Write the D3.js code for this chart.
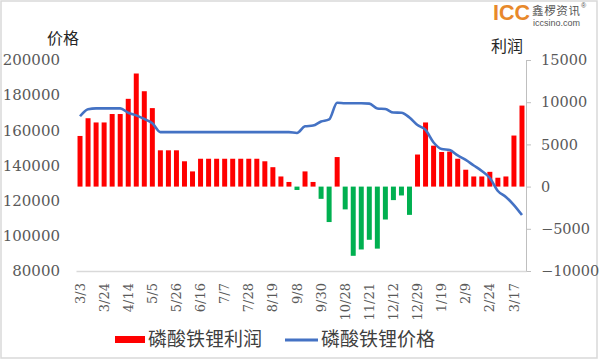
<!DOCTYPE html>
<html>
<head>
<meta charset="utf-8">
<script src="https://cdn.jsdelivr.net/npm/d3@7"></script>
<style>
  body { margin: 0; background: #fff; }
  .tickText { font-family: "DejaVu Serif", serif; fill: #595959; }
  .cjk { font-family: "Noto Sans CJK SC", sans-serif; }
</style>
</head>
<body>
<div class="chart"></div>
<script>
// weekly dates (only every 3rd one is labelled)
var dates = ["3/3","3/10","3/17","3/24","3/31","4/7","4/14","4/21","4/28","5/5",
  "5/12","5/19","5/26","6/2","6/9","6/16","6/23","6/30","7/7","7/14",
  "7/21","7/28","8/4","8/11","8/19","8/25","9/1","9/8","9/16","9/23",
  "9/30","10/14","10/21","10/28","11/4","11/11","11/21","11/25","12/2","12/12",
  "12/16","12/23","12/29","1/6","1/13","1/19","1/27","2/3","2/9","2/14",
  "2/17","2/24","3/3","3/10","3/17","3/24"];

// 磷酸铁锂利润 (right axis)
var profit = [6000, 8100, 7600, 7600, 8600, 8600, 10400, 13400, 11300, 9300,
  4300, 4300, 4300, 3000, 1800, 3300, 3300, 3300, 3300, 3300,
  3300, 3300, 3300, 3000, 2300, 1200, 550, -400, 1800, 550,
  -1450, -4200, 3500, -2700, -8200, -7450, -6300, -7350, -3900, -1600,
  -1050, -3350, 3800, 7600, 4850, 4100, 4150, 3300, 2000, 1200,
  1200, 1750, 1050, 1200, 6050, 9600];

// 磷酸铁锂价格 (left axis)
var price = [168000, 172000, 172500, 172500, 172500, 172500, 170000, 168500, 166500, 164000,
  159000, 159000, 159000, 159000, 159000, 159000, 159000, 159000, 159000, 159000,
  159000, 159000, 159000, 159000, 159000, 159000, 159000, 158500, 162300, 162700,
  165000, 166200, 175700, 175400, 175400, 175400, 175200, 172400, 172100, 170100,
  170000, 167300, 163000, 160200, 153100, 149400, 148800, 145700, 143200, 140000,
  136900, 132900, 125500, 122100, 117500, 111800];

var priceTicks = [80000, 100000, 120000, 140000, 160000, 180000, 200000];
var profitTicks = [-10000, -5000, 0, 5000, 10000, 15000];

var svgWidth = 600;
var svgHeight = 362;

var plot = { left: 76, right: 526, top: 60, bottom: 271 };

var svg = d3.select(".chart")
    .append("svg")
    .attr("width", svgWidth)
    .attr("height", svgHeight);

// frame
svg.append("rect")
    .attr("x", 1).attr("y", 1)
    .attr("width", 596).attr("height", 357)
    .attr("fill", "#fff")
    .attr("stroke", "#d9d9d9")
    .attr("stroke-width", 1.5);

// scales
var xScale = d3.scaleBand()
    .domain(d3.range(dates.length))
    .range([plot.left, plot.right])
    .paddingInner(0.38)
    .paddingOuter(0.19);

var yPrice = d3.scaleLinear()
    .domain([80000, 200000])
    .range([plot.bottom, plot.top]);

var yProfit = d3.scaleLinear()
    .domain([-10000, 15000])
    .range([plot.bottom, plot.top]);

// left axis, labels only
var leftAxis = d3.axisLeft(yPrice)
    .tickValues(priceTicks)
    .tickSize(0)
    .tickPadding(0)
    .tickFormat(d3.format("d"));

var leftG = svg.append("g")
    .attr("transform", "translate(60,0)")
    .call(leftAxis);
leftG.select(".domain").remove();
leftG.selectAll("text")
    .attr("class", "tickText")
    .style("font-size", "15px");

// right axis
var rightAxis = d3.axisRight(yProfit)
    .tickValues(profitTicks)
    .tickSize(5)
    .tickPadding(10)
    .tickFormat(d3.format("d"));

var rightG = svg.append("g")
    .attr("transform", `translate(${plot.right},0)`)
    .call(rightAxis);
rightG.select(".domain").attr("stroke", "#bfbfbf");
rightG.selectAll("line").attr("stroke", "#bfbfbf");
rightG.selectAll("text")
    .attr("class", "tickText")
    .style("font-size", "14.5px");

// bottom axis
var bottomAxis = d3.axisBottom(xScale)
    .tickValues(d3.range(0, dates.length, 3))
    .tickSize(0)
    .tickFormat(i => dates[i]);

var bottomG = svg.append("g")
    .attr("transform", `translate(0,${plot.bottom})`)
    .call(bottomAxis);
bottomG.select(".domain").attr("stroke", "#d9d9d9").attr("stroke-width", 1.5);
bottomG.selectAll("text")
    .attr("class", "tickText")
    .style("font-size", "13px")
    .attr("transform", "rotate(-90)")
    .attr("x", -12)
    .attr("y", 0)
    .attr("dy", "0.35em")
    .style("text-anchor", "end");

// profit bars
svg.selectAll("rect.bar")
    .data(profit)
    .enter()
    .append("rect")
    .attr("class", "bar")
    .attr("x", (d, i) => xScale(i))
    .attr("width", xScale.bandwidth())
    .attr("y", d => yProfit(Math.max(0, d)))
    .attr("height", d => Math.abs(yProfit(d) - yProfit(0)))
    .attr("fill", d => d >= 0 ? "#ff0000" : "#00b050");

// price line
var line = d3.line()
    .x((d, i) => xScale(i) + xScale.bandwidth() / 2)
    .y(d => yPrice(d))
    .curve(d3.curveMonotoneX);

svg.append("path")
    .datum(price)
    .attr("d", line)
    .attr("fill", "none")
    .attr("stroke", "#4472c4")
    .attr("stroke-width", 2.6)
    .attr("stroke-linejoin", "round");

// axis titles
svg.append("text")
    .attr("class", "cjk")
    .attr("x", 47).attr("y", 44)
    .style("font-size", "16px")
    .attr("fill", "#262626")
    .text("价格");

svg.append("text")
    .attr("class", "cjk")
    .attr("x", 491).attr("y", 52)
    .style("font-size", "16px")
    .attr("fill", "#262626")
    .text("利润");

// legend
svg.append("rect")
    .attr("x", 115).attr("y", 336)
    .attr("width", 30).attr("height", 7)
    .attr("fill", "#ff0000");

svg.append("text")
    .attr("class", "cjk")
    .attr("x", 148).attr("y", 346)
    .style("font-size", "19px")
    .attr("fill", "#404040")
    .text("磷酸铁锂利润");

svg.append("line")
    .attr("x1", 285).attr("x2", 318)
    .attr("y1", 340).attr("y2", 340)
    .attr("stroke", "#4472c4")
    .attr("stroke-width", 3);

svg.append("text")
    .attr("class", "cjk")
    .attr("x", 321).attr("y", 346)
    .style("font-size", "19px")
    .attr("fill", "#404040")
    .text("磷酸铁锂价格");

// logo
var logo = svg.append("g");
logo.append("text")
    .attr("x", 493).attr("y", 20)
    .attr("textLength", 37)
    .attr("lengthAdjust", "spacingAndGlyphs")
    .style("font-family", "Liberation Sans, sans-serif")
    .style("font-weight", "bold")
    .style("font-size", "22px")
    .attr("fill", "#e8892b")
    .text("ICC");
logo.append("text")
    .attr("class", "cjk")
    .attr("x", 532).attr("y", 15)
    .attr("textLength", 48)
    .style("font-size", "11.5px")
    .attr("fill", "#555")
    .text("鑫椤资讯");
logo.append("text")
    .attr("x", 533).attr("y", 26)
    .attr("textLength", 47)
    .attr("lengthAdjust", "spacingAndGlyphs")
    .style("font-family", "Liberation Sans, sans-serif")
    .style("font-size", "9px")
    .attr("fill", "#555")
    .text("iccsino.com");
logo.append("text")
    .attr("x", 581).attr("y", 8)
    .style("font-family", "Liberation Sans, sans-serif")
    .style("font-size", "7px")
    .attr("fill", "#555")
    .text("®");
</script>
</body>
</html>
